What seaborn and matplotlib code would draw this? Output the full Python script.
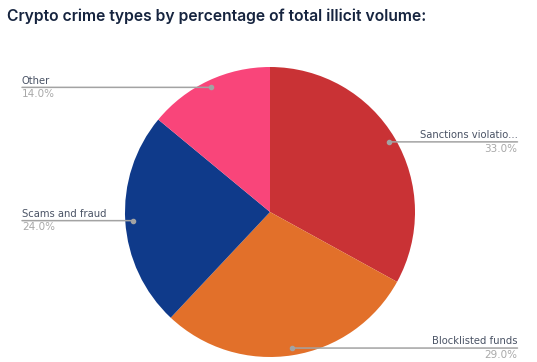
"""Pie chart: crypto crime types by share of total illicit volume."""
import matplotlib
matplotlib.use("Agg")
import matplotlib.pyplot as plt
import matplotlib.transforms as mtransforms
import numpy as np
import seaborn as sns

categories = ["Sanctions violatio...", "Blocklisted funds", "Scams and fraud", "Other"]
shares = [33.0, 29.0, 24.0, 14.0]
colors = ["#C93235", "#E2702A", "#0F3A8A", "#F9457A"]
label_side = ["right", "right", "left", "left"]

sns.set_theme(style="white")
plt.rcParams["font.family"] = ["DejaVu Sans"]

W, H = 537, 362
fig = plt.figure(figsize=(W / 100, H / 100), dpi=100, facecolor="white")

fig.text(7 / W, 1 - 16 / H, "Crypto crime types by percentage of total illicit volume:",
         family=["Inter", "DejaVu Sans"], fontweight="semibold", fontsize=11.3,
         color="#16243F", ha="left", va="center")

cx, cy, r = 270, 212, 145
ax = fig.add_axes([(cx - r) / W, (H - cy - r) / H, 2 * r / W, 2 * r / H])
wedges, _ = ax.pie(shares, colors=colors, startangle=90, counterclock=False,
                   radius=1, wedgeprops=dict(linewidth=0, antialiased=True))
ax.set_xlim(-1, 1)
ax.set_ylim(-1, 1)
ax.set_aspect("auto")
ax.axis("off")

blend = mtransforms.blended_transform_factory(fig.transFigure, ax.transData)
line_c = "#A3A3A3"
for w, name, val, side in zip(wedges, categories, shares, label_side):
    mid = np.deg2rad((w.theta1 + w.theta2) / 2)
    mx, my = 0.95 * np.cos(mid), 0.95 * np.sin(mid)
    ax.plot([mx], [my], "o", ms=3, color=line_c, zorder=5)
    fx = 22 / W if side == "left" else 517.5 / W
    ha = "left" if side == "left" else "right"
    ax.annotate("", xy=(mx, my), xycoords="data", xytext=(fx, my), textcoords=blend,
                arrowprops=dict(arrowstyle="-", color=line_c, lw=1.1,
                                shrinkA=0, shrinkB=0), annotation_clip=False)
    ax.text(fx, my + 0.012, name, transform=blend, ha=ha, va="bottom",
            fontsize=7.2, color="#4A5365", clip_on=False)
    ax.text(fx, my - 0.012, f"{val:.1f}%", transform=blend, ha=ha, va="top",
            fontsize=7.5, color="#A8A8A8", clip_on=False)

fig.savefig("out.png", dpi=100, facecolor="white")
